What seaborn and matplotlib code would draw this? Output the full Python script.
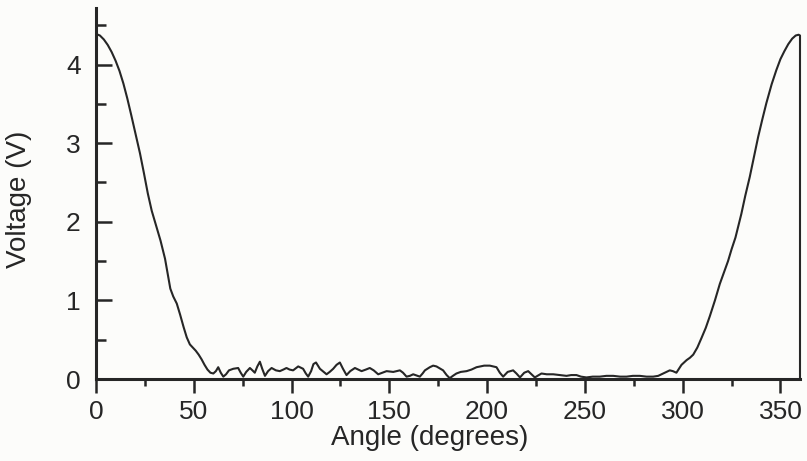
import matplotlib
matplotlib.use("Agg")
import matplotlib.pyplot as plt
import seaborn as sns
from matplotlib.ticker import MultipleLocator

# values
angle = [0, 2, 4, 6, 8, 10, 12, 14, 16, 18,
         20, 22.5, 24.5, 26.5, 28.5, 31, 33, 35.3, 36.8, 38,
         39.5, 41.3, 43, 44.8, 46.4, 48, 49.5, 51, 52.5, 54,
         55.5, 57, 58.5, 60, 61.3, 62.5, 63.8, 65.1, 66.5, 68,
         70.2, 72.7, 74, 75.3, 76.8, 78.7, 80, 81.2, 82.5, 83.8,
         85, 86.4, 88, 89.8, 92, 94, 95.8, 97.4, 99, 100.8,
         103.4, 105.9, 107.3, 108.5, 110, 111.2, 112.5, 114.5, 117.9, 119.5,
         121.3, 123, 124.7, 126.3, 128.1, 130, 132.4, 135.8, 138, 140,
         142, 144.3, 146.5, 148.6, 152, 155.4, 157, 158.8, 160.5, 162.2,
         165.6, 167, 168.2, 170.7, 172.4, 174.1, 177.5, 179.3, 180.9, 182.5,
         184.3, 186.5, 189.5, 192, 194.6, 198.5, 201.4, 204.8, 206.5, 208.2,
         210.5, 213.3, 215, 216.8, 219, 221, 222.7, 224.4, 227.8, 230.5,
         233.8, 237, 240.6, 243, 245.7, 248, 250.8, 254, 257.6, 261,
         264.5, 268, 271.3, 274.5, 278.1, 281.5, 284.9, 287.5, 290, 293.4,
         295, 296.8, 299.4, 302, 303.7, 305.4, 307.5, 309.6, 311.8, 313.9,
         316.5, 319, 321, 323.2, 325, 327, 330, 332, 334.3, 336.5,
         338.6, 340.7, 342.8, 345.5, 347.9, 350, 352, 354, 356, 357.8,
         359.3, 360, 360]
voltage = [4.39, 4.37, 4.32, 4.25, 4.16, 4.05, 3.92, 3.76, 3.57, 3.36,
           3.14, 2.87, 2.62, 2.36, 2.14, 1.93, 1.76, 1.53, 1.32, 1.15,
           1.05, 0.96, 0.82, 0.66, 0.53, 0.44, 0.40, 0.36, 0.31, 0.25,
           0.18, 0.12, 0.08, 0.07, 0.10, 0.15, 0.08, 0.03, 0.06, 0.11,
           0.13, 0.14, 0.08, 0.03, 0.09, 0.14, 0.11, 0.08, 0.16, 0.22,
           0.13, 0.04, 0.10, 0.14, 0.11, 0.10, 0.12, 0.14, 0.12, 0.11,
           0.16, 0.13, 0.07, 0.03, 0.10, 0.19, 0.21, 0.13, 0.06, 0.09,
           0.13, 0.18, 0.21, 0.13, 0.05, 0.10, 0.14, 0.10, 0.12, 0.14,
           0.11, 0.06, 0.08, 0.10, 0.09, 0.11, 0.08, 0.03, 0.04, 0.06,
           0.03, 0.07, 0.11, 0.15, 0.17, 0.16, 0.11, 0.05, 0.01, 0.04,
           0.07, 0.09, 0.10, 0.12, 0.15, 0.17, 0.17, 0.15, 0.08, 0.03,
           0.09, 0.11, 0.07, 0.02, 0.08, 0.10, 0.06, 0.02, 0.07, 0.06,
           0.06, 0.05, 0.04, 0.05, 0.05, 0.03, 0.02, 0.03, 0.03, 0.04,
           0.04, 0.03, 0.03, 0.04, 0.04, 0.03, 0.03, 0.04, 0.07, 0.11,
           0.10, 0.08, 0.18, 0.24, 0.27, 0.31, 0.40, 0.52, 0.65, 0.80,
           1.00, 1.21, 1.35, 1.50, 1.65, 1.80, 2.10, 2.33, 2.57, 2.83,
           3.08, 3.30, 3.51, 3.75, 3.93, 4.07, 4.17, 4.26, 4.33, 4.37,
           4.38, 4.37, 0]

x_ticks = [0, 50, 100, 150, 200, 250, 300, 350]
y_ticks = [0, 1, 2, 3, 4]

ink = "#262626"
paper = "#fcfcfa"

sns.set_style("ticks")
plt.rcParams["font.family"] = ["Liberation Sans", "DejaVu Sans"]

fig = plt.figure(figsize=(8.07, 4.61), dpi=100, facecolor=paper)
ax = fig.add_axes([96 / 807, 82 / 461, 704 / 807, 371 / 461])
ax.set_facecolor(paper)

sns.lineplot(x=angle, y=voltage, sort=False, estimator=None, ax=ax,
             color=ink, linewidth=1.5, clip_on=False,
             solid_joinstyle="round")

ax.set_xlim(0, 360)
ax.set_ylim(0, 4.72)
ax.set_xticks(x_ticks)
ax.set_yticks(y_ticks)
ax.xaxis.set_minor_locator(MultipleLocator(25))
ax.yaxis.set_minor_locator(MultipleLocator(0.5))

for side in ["top", "right"]:
    ax.spines[side].set_visible(False)
for side in ["left", "bottom"]:
    ax.spines[side].set_linewidth(2.2)
    ax.spines[side].set_color(ink)

ax.tick_params(axis="x", which="major", direction="out", length=10, width=1.8,
               pad=5, labelsize=19, colors=ink)
ax.tick_params(axis="x", which="minor", direction="out", length=5, width=1.8,
               colors=ink)
ax.tick_params(axis="y", which="major", direction="in", length=11.5, width=1.8,
               pad=11, labelsize=19, colors=ink)
ax.tick_params(axis="y", which="minor", direction="in", length=7, width=1.8,
               colors=ink)

ax.set_xlabel("Angle (degrees)", fontsize=20, color=ink)
ax.set_ylabel("Voltage (V)", fontsize=20, color=ink)
ax.xaxis.set_label_coords(0.474, -0.125)
ax.yaxis.set_label_coords(-0.091, 0.485)

fig.savefig("out.png", dpi=100, facecolor=paper)
